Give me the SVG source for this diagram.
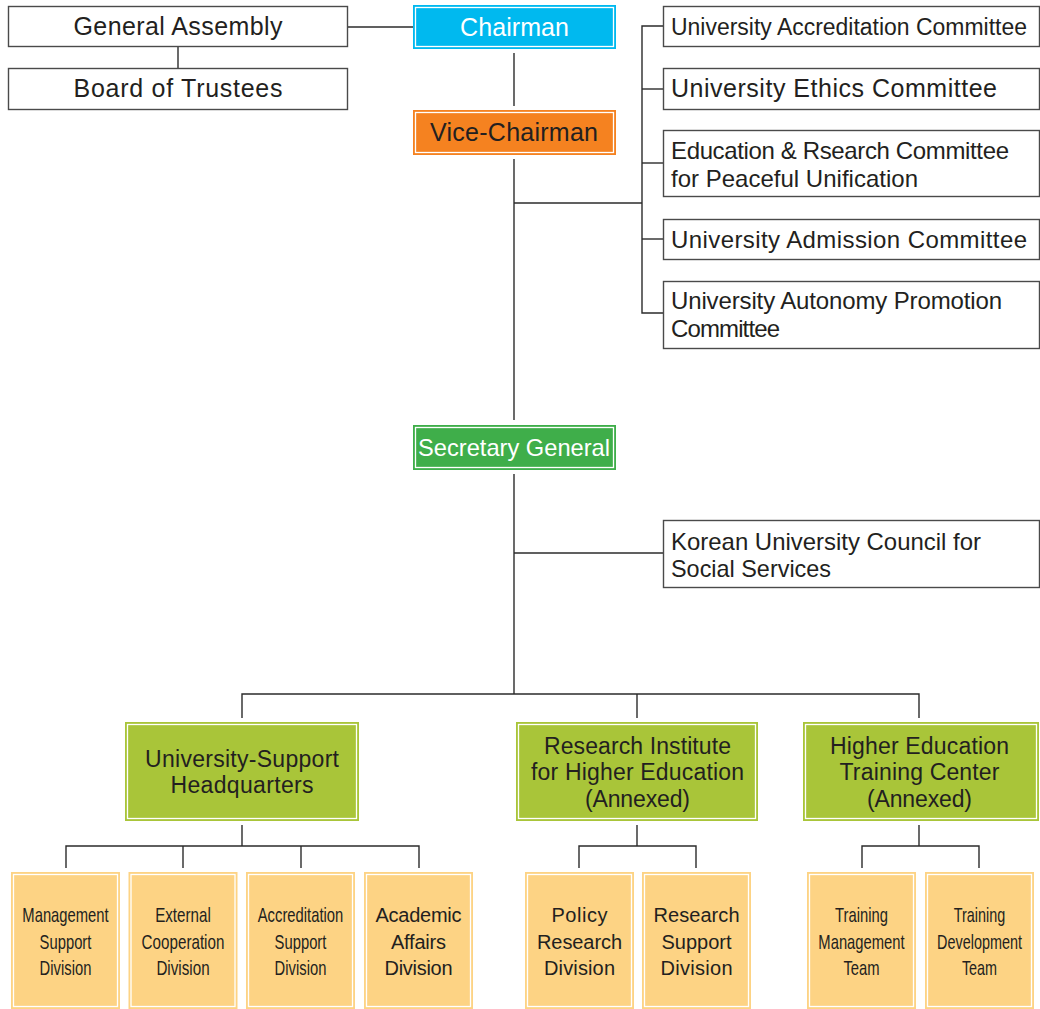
<svg xmlns="http://www.w3.org/2000/svg" width="1040" height="1009" viewBox="0 0 1040 1009">
<style>
text{font-family:"Liberation Sans",Arial,sans-serif;fill:#231f20;}
.t24{font-size:24px;}
.t25{font-size:25px;}
.t23{font-size:23px;}
.t20{font-size:20px;}
.w{fill:#ffffff;}
.c{text-anchor:middle;}
.box{fill:#ffffff;stroke:#4a4a4a;stroke-width:1.4;}
.inner{fill:none;stroke:#ffffff;stroke-width:1.3;}
.cy{fill:#00b9ef;}
.or{fill:#f58220;}
.gr{fill:#3fae4a;}
.lg{fill:#a9c539;}
.yl{fill:#fdd384;}
.ln{fill:none;stroke:#2b2b2b;stroke-width:1.4;}
</style>
<rect width="1040" height="1009" fill="#ffffff"/>
<g id="connectors" class="ln">
<line x1="178" y1="46" x2="178" y2="68"/>
<line x1="347" y1="27" x2="413" y2="27"/>
<line x1="514" y1="53" x2="514" y2="106"/>
<line x1="514" y1="159" x2="514" y2="420"/>
<line x1="514" y1="203" x2="642" y2="203"/>
<polyline points="663,26 642,26 642,313 663,313"/>
<line x1="642" y1="89" x2="663" y2="89"/>
<line x1="642" y1="163" x2="663" y2="163"/>
<line x1="642" y1="239" x2="663" y2="239"/>
<line x1="514" y1="474" x2="514" y2="694"/>
<line x1="514" y1="553" x2="663" y2="553"/>
<polyline points="242,718 242,694 919,694 919,718"/>
<line x1="637" y1="694" x2="637" y2="718"/>
<line x1="242" y1="825" x2="242" y2="846"/>
<polyline points="66,868 66,846 419,846 419,868"/>
<line x1="183" y1="846" x2="183" y2="868"/>
<line x1="301" y1="846" x2="301" y2="868"/>
<line x1="637" y1="825" x2="637" y2="846"/>
<polyline points="579,868 579,846 696,846 696,868"/>
<line x1="919" y1="825" x2="919" y2="846"/>
<polyline points="862,868 862,846 979,846 979,868"/>
</g>
<g id="general-assembly">
<rect class="box" x="8.5" y="6.5" width="339" height="40"/>
<text class="t25 c" x="178" y="35" textLength="209" lengthAdjust="spacing">General Assembly</text>
</g>
<g id="board-of-trustees">
<rect class="box" x="8.5" y="68.5" width="339" height="41"/>
<text class="t25 c" x="178" y="97" textLength="209" lengthAdjust="spacing">Board of Trustees</text>
</g>
<g id="chairman">
<rect class="cy" x="413" y="5" width="203" height="44"/>
<rect class="inner" x="415.5" y="7.5" width="198" height="39"/>
<text class="t25 c w" x="514.5" y="36" textLength="109" lengthAdjust="spacing">Chairman</text>
</g>
<g id="vice-chairman">
<rect class="or" x="413" y="110" width="203" height="45"/>
<rect class="inner" x="415.5" y="112.5" width="198" height="40"/>
<text class="t25 c" x="514" y="141" textLength="168" lengthAdjust="spacing">Vice-Chairman</text>
</g>
<g id="accreditation-committee">
<rect class="box" x="663.5" y="6.5" width="376" height="40"/>
<text class="t23" x="671" y="35" textLength="356" lengthAdjust="spacingAndGlyphs">University Accreditation Committee</text>
</g>
<g id="ethics-committee">
<rect class="box" x="663.5" y="68.5" width="376" height="41"/>
<text class="t25" x="671" y="97" textLength="326" lengthAdjust="spacing">University Ethics Committee</text>
</g>
<g id="unification-committee">
<rect class="box" x="663.5" y="130.5" width="376" height="66"/>
<text class="t24" x="671" y="159" textLength="338" lengthAdjust="spacing">Education &amp; Rsearch Committee</text>
<text class="t24" x="671" y="187" textLength="247" lengthAdjust="spacing">for Peaceful Unification</text>
</g>
<g id="admission-committee">
<rect class="box" x="663.5" y="219.5" width="376" height="40"/>
<text class="t24" x="671" y="248" textLength="356" lengthAdjust="spacing">University Admission Committee</text>
</g>
<g id="autonomy-committee">
<rect class="box" x="663.5" y="281.5" width="376" height="67"/>
<text class="t24" x="671" y="309" textLength="331" lengthAdjust="spacing">University Autonomy Promotion</text>
<text class="t24" x="671" y="337" textLength="109" lengthAdjust="spacing">Committee</text>
</g>
<g id="secretary-general">
<rect class="gr" x="413" y="425" width="203" height="45"/>
<rect class="inner" x="415.5" y="427.5" width="198" height="40"/>
<text class="t24 c w" x="514" y="456" textLength="192" lengthAdjust="spacingAndGlyphs">Secretary General</text>
</g>
<g id="social-services-council">
<rect class="box" x="663.5" y="520.5" width="376" height="67"/>
<text class="t24" x="671" y="550" textLength="310" lengthAdjust="spacingAndGlyphs">Korean University Council for</text>
<text class="t24" x="671" y="577" textLength="160" lengthAdjust="spacingAndGlyphs">Social Services</text>
</g>
<g id="university-support-hq">
<rect class="lg" x="125" y="722" width="234" height="99"/>
<rect class="inner" x="127.5" y="724.5" width="229" height="94"/>
<text class="t23 c" x="242" y="767" textLength="194" lengthAdjust="spacing">University-Support</text>
<text class="t23 c" x="242" y="793" textLength="143" lengthAdjust="spacing">Headquarters</text>
</g>
<g id="research-institute">
<rect class="lg" x="516" y="722" width="242" height="99"/>
<rect class="inner" x="518.5" y="724.5" width="237" height="94"/>
<text class="t23 c" x="637.5" y="754" textLength="187" lengthAdjust="spacing">Research Institute</text>
<text class="t23 c" x="637.5" y="780" textLength="213" lengthAdjust="spacing">for Higher Education</text>
<text class="t23 c" x="637.5" y="807" textLength="105" lengthAdjust="spacing">(Annexed)</text>
</g>
<g id="training-center">
<rect class="lg" x="803" y="722" width="236" height="99"/>
<rect class="inner" x="805.5" y="724.5" width="231" height="94"/>
<text class="t23 c" x="919.5" y="754" textLength="179" lengthAdjust="spacing">Higher Education</text>
<text class="t23 c" x="919.5" y="780" textLength="160" lengthAdjust="spacing">Training Center</text>
<text class="t23 c" x="919.5" y="807" textLength="105" lengthAdjust="spacing">(Annexed)</text>
</g>
<g id="management-support">
<rect class="yl" x="11" y="872" width="109" height="137"/>
<rect class="inner" x="13.5" y="874.5" width="104" height="132"/>
<g transform="translate(65.5,0) scale(0.74,1)">
<text class="t20 c" x="0" y="922">Management</text>
<text class="t20 c" x="0" y="949">Support</text>
<text class="t20 c" x="0" y="975">Division</text>
</g>
</g>
<g id="external-cooperation">
<rect class="yl" x="128.5" y="872" width="109" height="137"/>
<rect class="inner" x="131" y="874.5" width="104" height="132"/>
<g transform="translate(183,0) scale(0.76,1)">
<text class="t20 c" x="0" y="922">External</text>
<text class="t20 c" x="0" y="949">Cooperation</text>
<text class="t20 c" x="0" y="975">Division</text>
</g>
</g>
<g id="accreditation-support">
<rect class="yl" x="246" y="872" width="109" height="137"/>
<rect class="inner" x="248.5" y="874.5" width="104" height="132"/>
<g transform="translate(300.5,0) scale(0.74,1)">
<text class="t20 c" x="0" y="922">Accreditation</text>
<text class="t20 c" x="0" y="949">Support</text>
<text class="t20 c" x="0" y="975">Division</text>
</g>
</g>
<g id="academic-affairs">
<rect class="yl" x="364" y="872" width="109" height="137"/>
<rect class="inner" x="366.5" y="874.5" width="104" height="132"/>
<text class="t20 c" x="418.5" y="922" textLength="86" lengthAdjust="spacing">Academic</text>
<text class="t20 c" x="418.5" y="949" textLength="55" lengthAdjust="spacing">Affairs</text>
<text class="t20 c" x="418.5" y="975" textLength="68" lengthAdjust="spacing">Division</text>
</g>
<g id="policy-research">
<rect class="yl" x="525" y="872" width="109" height="137"/>
<rect class="inner" x="527.5" y="874.5" width="104" height="132"/>
<text class="t20 c" x="579.5" y="922" textLength="56" lengthAdjust="spacing">Policy</text>
<text class="t20 c" x="579.5" y="949" textLength="85" lengthAdjust="spacing">Research</text>
<text class="t20 c" x="579.5" y="975" textLength="71" lengthAdjust="spacing">Division</text>
</g>
<g id="research-support">
<rect class="yl" x="642" y="872" width="109" height="137"/>
<rect class="inner" x="644.5" y="874.5" width="104" height="132"/>
<text class="t20 c" x="696.5" y="922" textLength="86" lengthAdjust="spacing">Research</text>
<text class="t20 c" x="696.5" y="949" textLength="70" lengthAdjust="spacing">Support</text>
<text class="t20 c" x="696.5" y="975" textLength="72" lengthAdjust="spacing">Division</text>
</g>
<g id="training-management">
<rect class="yl" x="807" y="872" width="109" height="137"/>
<rect class="inner" x="809.5" y="874.5" width="104" height="132"/>
<g transform="translate(861.5,0) scale(0.74,1)">
<text class="t20 c" x="0" y="922">Training</text>
<text class="t20 c" x="0" y="949">Management</text>
<text class="t20 c" x="0" y="975">Team</text>
</g>
</g>
<g id="training-development">
<rect class="yl" x="925" y="872" width="109" height="137"/>
<rect class="inner" x="927.5" y="874.5" width="104" height="132"/>
<g transform="translate(979.5,0) scale(0.72,1)">
<text class="t20 c" x="0" y="922">Training</text>
<text class="t20 c" x="0" y="949">Development</text>
<text class="t20 c" x="0" y="975">Team</text>
</g>
</g>
</svg>
